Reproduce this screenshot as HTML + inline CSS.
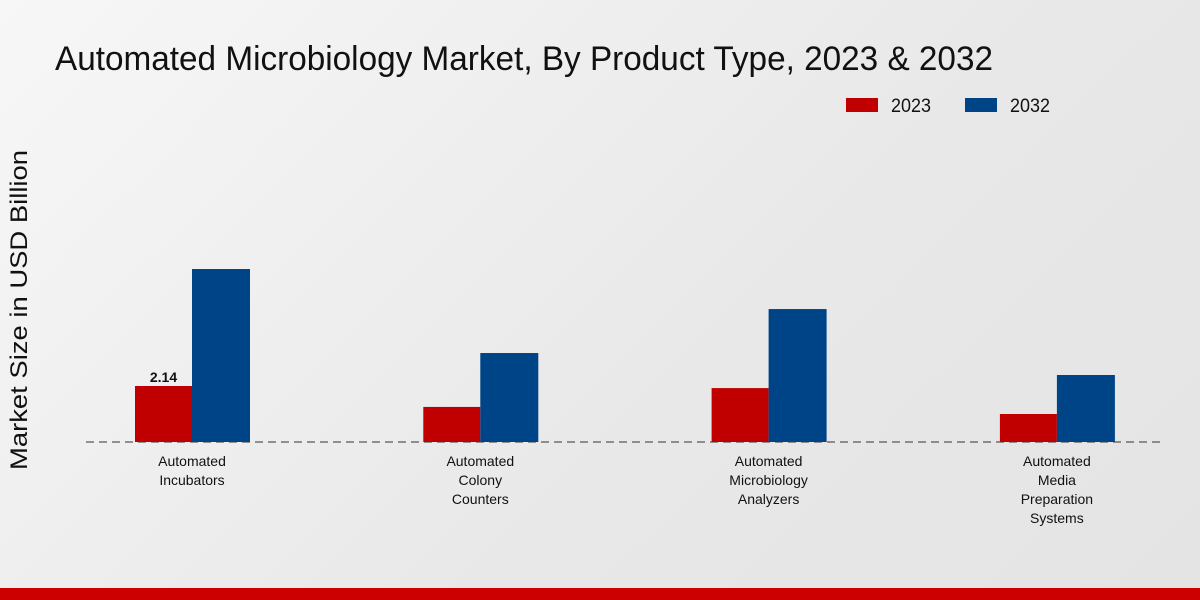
<!DOCTYPE html>
<html><head><meta charset="utf-8"><style>
html,body{margin:0;padding:0;}
body{width:1200px;height:600px;overflow:hidden;background:linear-gradient(135deg,#f7f7f7 0%,#e8e8e8 60%,#e4e4e4 100%);font-family:"Liberation Sans",sans-serif;}
</style></head><body>
<svg id="chart" width="1200" height="600" xmlns="http://www.w3.org/2000/svg" style="position:absolute;left:0;top:0">
<text x="55" y="70" font-size="34" fill="#111" textLength="938" lengthAdjust="spacingAndGlyphs" font-family="Liberation Sans, sans-serif">Automated Microbiology Market, By Product Type, 2023 &amp; 2032</text>
<g>
<rect x="846" y="98" width="32" height="14" fill="#c00000"/>
<text x="891" y="112" font-size="19" fill="#111" textLength="40" lengthAdjust="spacingAndGlyphs">2023</text>
<rect x="965" y="98" width="32" height="14" fill="#004488"/>
<text x="1010" y="112" font-size="19" fill="#111" textLength="40" lengthAdjust="spacingAndGlyphs">2032</text>
</g>
<text transform="translate(27,310) rotate(-90)" text-anchor="middle" font-size="24" fill="#111" textLength="320" lengthAdjust="spacingAndGlyphs">Market Size in USD Billion</text>
<line x1="86" y1="442" x2="1163" y2="442" stroke="#333" stroke-width="1" stroke-dasharray="8,5"/>
<g id="bars"></g>
<g id="labels"></g>
<rect x="0" y="588" width="1200" height="12" fill="#cc0000"/>
</svg>
<script>
const categories=[["Automated","Incubators"],["Automated","Colony","Counters"],["Automated","Microbiology","Analyzers"],["Automated","Media","Preparation","Systems"]];
const values2023=[2.14,1.34,2.06,1.07];
const values2032=[6.61,3.40,5.08,2.56];
const valueLabels=["2.14",null,null,null];
const ns="http://www.w3.org/2000/svg";
const baseY=442, pxPerUnit=26.17, x0=192, step=288.3, bw=57;
const yScale=v=>baseY-v*pxPerUnit;
const xCenter=i=>x0+i*step;
const bars=document.getElementById('bars'), labels=document.getElementById('labels');
function mk(t,a){const e=document.createElementNS(ns,t);for(const k in a)e.setAttribute(k,a[k]);return e;}
categories.forEach((c,i)=>{
  const cx=xCenter(i);
  const r1=mk('rect',{x:cx-bw,y:yScale(values2023[i]),width:bw,height:baseY-yScale(values2023[i]),fill:'#c00000'});
  
  
  bars.appendChild(r1);
  const r2=mk('rect',{x:cx,y:yScale(values2032[i]),width:bw+1,height:baseY-yScale(values2032[i]),fill:'#004488'});
  
  
  bars.appendChild(r2);
  if(valueLabels[i]){
    const t=mk('text',{x:cx-bw/2,y:yScale(values2023[i])-4,'text-anchor':'middle','font-size':14,'font-weight':'bold',fill:'#111'});
    t.textContent=valueLabels[i];
    
    
    labels.appendChild(t);
  }
  const tx=mk('text',{x:cx,y:466,'text-anchor':'middle','font-size':14,fill:'#111'});
  
  
  c.forEach((line,j)=>{const ts=mk('tspan',{x:cx,dy:j?19:0});ts.textContent=line;tx.appendChild(ts);});
  labels.appendChild(tx);
});
</script>
</body></html>
